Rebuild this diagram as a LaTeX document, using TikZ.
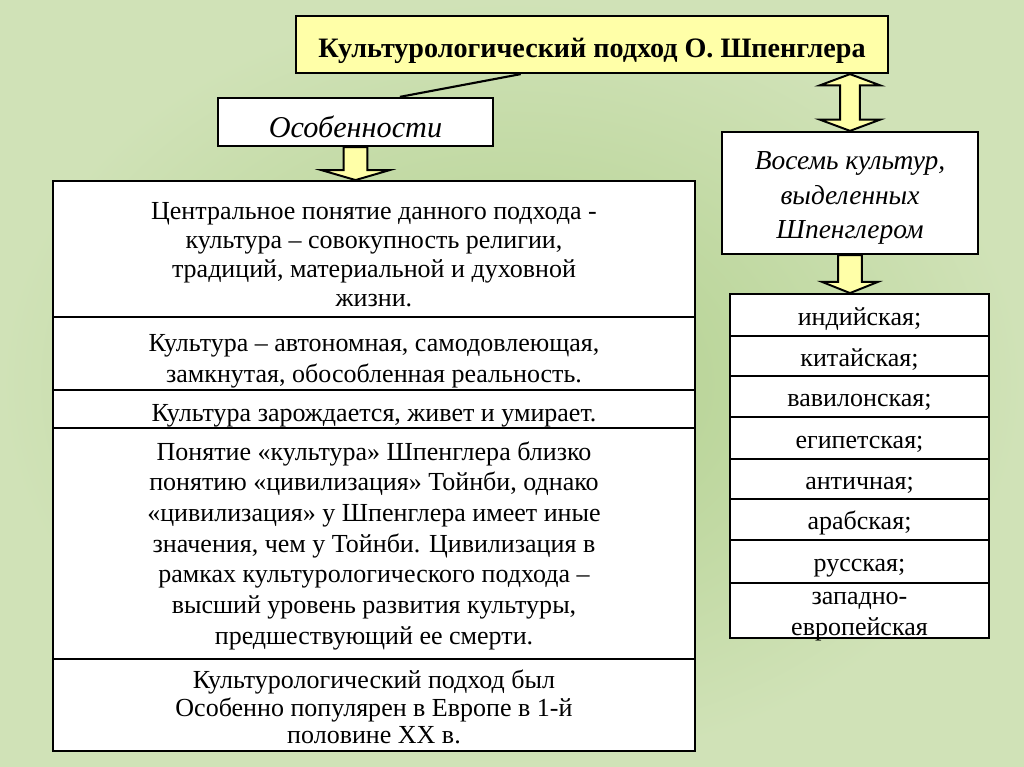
\documentclass[tikz,border=0pt]{standalone}
\usepackage{fontspec}
\setmainfont{Liberation Serif}
\usetikzlibrary{calc}

\definecolor{bgmid}{RGB}{176,207,140}
\definecolor{bgedge}{RGB}{208,226,183}
\definecolor{boxyellow}{RGB}{255,255,168}

\def\px{0.7113pt} % one pixel of the reference
\newcommand{\txtdrop}[1]{\rule{0pt}{#1}} % taller first line, lowers the text

\tikzset{
  box/.style={draw=black, line width=1.6pt, fill=white, inner sep=0pt, align=center},
  titlebox/.style={box, fill=boxyellow, font=\bfseries\fontsize{20}{24}\selectfont},
  headbox/.style={box, font=\itshape\fontsize{21.5}{24}\selectfont},
  rowbox/.style={box, line width=1.3pt, minimum width=642*\px, font=\fontsize{18.5}{21.8}\selectfont},
  itembox/.style={box, line width=1.3pt, minimum width=259*\px, font=\fontsize{18.5}{22}\selectfont},
  yarrow/.style={draw=black, line width=1.4pt, fill=boxyellow, line join=miter},
}

% block arrow downwards: #1 top, #2 tip, #3 shaft half width, #4 head half width, #5 head length
\newcommand{\yarrowdown}[5]{%
  \draw[yarrow] let \p1=(#1), \p2=(#2) in
    (\x1-#3,\y1) -- (\x1+#3,\y1) -- (\x1+#3,\y2+#5) -- (\x1+#4,\y2+#5)
    -- (\x1,\y2) -- (\x1-#4,\y2+#5) -- (\x1-#3,\y2+#5) -- cycle;}

% block arrow with two heads: #1 top tip, #2 bottom tip
\newcommand{\yarrowboth}[2]{%
  \draw[yarrow] let \p1=(#1), \p2=(#2) in
    (\x1,\y1) -- (\x1+21.5pt,\y1-8pt) -- (\x1+7pt,\y1-8pt) -- (\x1+7pt,\y2+8pt)
    -- (\x1+21.5pt,\y2+8pt) -- (\x1,\y2) -- (\x1-21.5pt,\y2+8pt) -- (\x1-7pt,\y2+8pt)
    -- (\x1-7pt,\y1-8pt) -- (\x1-21.5pt,\y1-8pt) -- cycle;}

\begin{document}
\begin{tikzpicture}[x=0.025cm, y=-0.025cm]

  % background
  \useasboundingbox (0,0) rectangle (1024,767);
  \shade[inner color=bgmid, outer color=bgedge] (0,0) rectangle (1024,767);

  % heading boxes
  \node[titlebox, minimum width=592*\px, minimum height=57*\px] (title) at (592,44.5)
    {\txtdrop{23pt}Культурологический подход О. Шпенглера};
  \node[headbox, minimum width=275*\px, minimum height=48*\px] (osob) at (355.5,122)
    {\txtdrop{22.5pt}Особенности};
  \node[headbox, minimum width=256*\px, minimum height=122*\px,
        font=\itshape\fontsize{19.5}{24.5}\selectfont] (cult) at (850,193)
    {\txtdrop{20pt}Восемь культур,\\выделенных\\Шпенглером};

  % features
  \node[rowbox, minimum height=136*\px, font=\fontsize{18.5}{20.6}\selectfont] (r1) at (374,249)
    {\txtdrop{20pt}Центральное понятие данного подхода -\\культура – совокупность религии,\\традиций, материальной и духовной\\жизни.};
  \node[rowbox, minimum height=73*\px] (r2) at (374,353.5)
    {\txtdrop{22.8pt}Культура – автономная, самодовлеющая,\\замкнутая, обособленная реальность.};
  \node[rowbox, minimum height=38*\px] (r3) at (374,409)
    {\txtdrop{21.5pt}Культура зарождается, живет и умирает.};
  \node[rowbox, minimum height=231*\px] (r4) at (374,543.5)
    {\txtdrop{16.5pt}Понятие «культура» Шпенглера близко\\понятию «цивилизация» Тойнби, однако\\«цивилизация» у Шпенглера имеет иные\\значения, чем у Тойнби. Цивилизация в\\рамках культурологического подхода –\\высший уровень развития культуры,\\предшествующий ее смерти.};
  \node[rowbox, minimum height=92*\px, font=\fontsize{18.5}{19.6}\selectfont] (r5) at (374,705)
    {\txtdrop{16.5pt}Культурологический подход был\\Особенно популярен в Европе в 1-й\\половине XX в.};

  % the eight cultures
  \foreach \yc/\hh/\txt [count=\i] in {315/42/{индийская;}, 356/40/{китайская;},
      396.5/41/{вавилонская;}, 438/42/{египетская;}, 479/40/{античная;},
      519.5/41/{арабская;}, 561.5/43/{русская;}}
    \node[itembox, minimum height=\hh*\px] (l\i) at (859.5,\yc) {\txtdrop{18.5pt}\vphantom{у}\txt};
  \node[itembox, minimum height=55*\px] (l8) at (859.5,610.5)
    {\raisebox{-6.6pt}[0pt][0pt]{\begin{tabular}{@{}c@{}}западно-\\европейская\end{tabular}}};

  % connectors
  \draw[line width=1.5pt] ($(title.south west)!0.38!(title.south east)$)
    -- ($(osob.north west)!0.66!(osob.north east)$);
  \yarrowdown{osob.south}{r1.north}{8.5pt}{24pt}{7pt}
  \yarrowdown{cult.south}{l1.north}{8.5pt}{20pt}{8pt}
  \yarrowboth{title.south -| cult.north}{cult.north}

\end{tikzpicture}
\end{document}
